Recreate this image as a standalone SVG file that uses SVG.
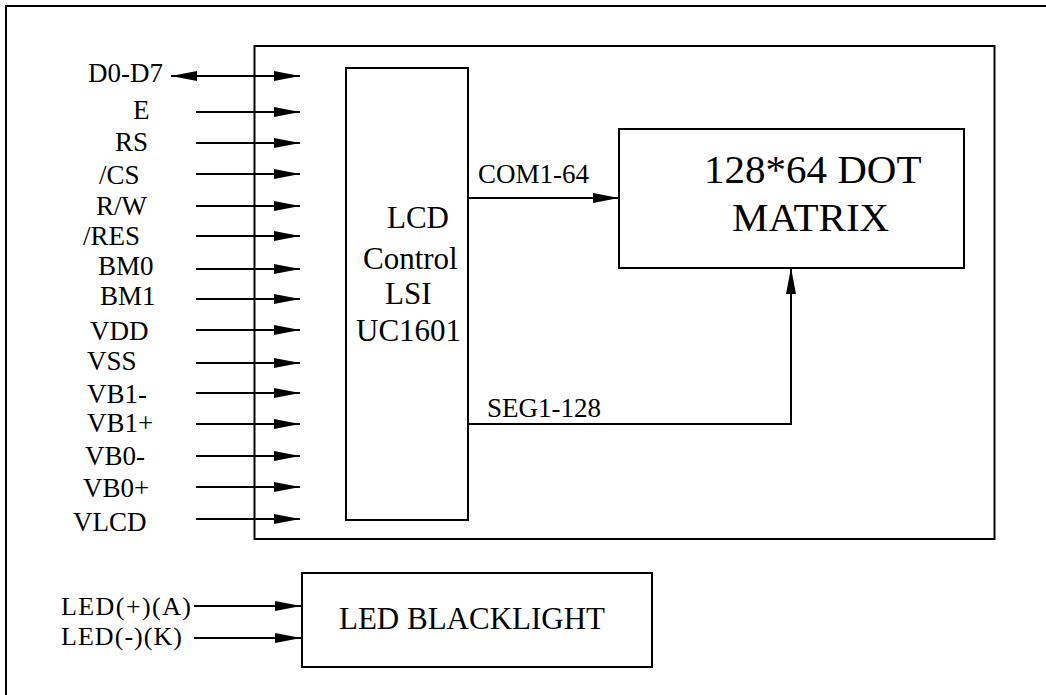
<svg xmlns="http://www.w3.org/2000/svg" width="1046" height="695" viewBox="0 0 1046 695">
<style>
.box{fill:none;stroke:#000;stroke-width:2}
.ln{fill:none;stroke:#000;stroke-width:2}
.arr{marker-end:url(#ah)}
text{font-family:"Liberation Serif","Times New Roman",serif;fill:#000}
.lbl{font-size:27px}
.chip{font-size:31px}
.big{font-size:41px}
</style>
<defs>
<marker id="ah" markerUnits="userSpaceOnUse" markerWidth="26" markerHeight="10" refX="26" refY="5" orient="auto-start-reverse">
<path d="M0,0 L26,5 L0,10 z" fill="#000"/>
</marker>
</defs>
<rect x="6" y="6" width="1100" height="800" class="box"/>
<g id="module"><rect x="254.5" y="46" width="740" height="493" class="box"/></g>
<g id="controller">
<rect x="346" y="68" width="122" height="452" class="box"/>
<text class="chip" x="387" y="228">LCD</text>
<text class="chip" x="363" y="269">Control</text>
<text class="chip" x="385" y="304">LSI</text>
<text class="chip" x="356" y="341">UC1601</text>
</g>
<g id="matrix">
<rect x="619" y="129" width="345" height="139" class="box"/>
<text class="big" x="704" y="183">128*64 DOT</text>
<text class="big" x="732" y="231">MATRIX</text>
</g>
<g id="backlight">
<rect x="302" y="573" width="350" height="94" class="box"/>
<text x="339" y="629" font-size="31">LED BLACKLIGHT</text>
</g>
<g id="pins">
<text class="lbl" x="88" y="82">D0-D7</text>
<text class="lbl" x="133" y="119">E</text>
<text class="lbl" x="115" y="151">RS</text>
<text class="lbl" x="99" y="184">/CS</text>
<text class="lbl" x="96" y="215">R/W</text>
<text class="lbl" x="83" y="245">/RES</text>
<text class="lbl" x="98" y="275">BM0</text>
<text class="lbl" x="100" y="305">BM1</text>
<text class="lbl" x="90" y="340">VDD</text>
<text class="lbl" x="87" y="370">VSS</text>
<text class="lbl" x="87" y="403">VB1-</text>
<text class="lbl" x="87" y="432">VB1+</text>
<text class="lbl" x="85" y="465">VB0-</text>
<text class="lbl" x="83" y="497">VB0+</text>
<text class="lbl" x="73" y="531">VLCD</text>
<text x="61" y="615" font-size="26" textLength="130">LED(+)(A)</text>
<text x="61" y="645" font-size="26" textLength="121">LED(-)(K)</text>
<text x="478" y="183" font-size="27">COM1-64</text>
<text x="487" y="417" font-size="27">SEG1-128</text>
</g>
<g id="connectors">
<line x1="171" y1="76" x2="300" y2="76" class="ln arr" marker-start="url(#ah)"/>
<line x1="196" y1="112" x2="300" y2="112" class="ln arr"/>
<line x1="196" y1="143" x2="300" y2="143" class="ln arr"/>
<line x1="196" y1="174" x2="300" y2="174" class="ln arr"/>
<line x1="196" y1="206" x2="300" y2="206" class="ln arr"/>
<line x1="196" y1="236" x2="300" y2="236" class="ln arr"/>
<line x1="196" y1="269" x2="300" y2="269" class="ln arr"/>
<line x1="196" y1="299" x2="300" y2="299" class="ln arr"/>
<line x1="196" y1="330" x2="300" y2="330" class="ln arr"/>
<line x1="196" y1="363" x2="300" y2="363" class="ln arr"/>
<line x1="196" y1="393" x2="300" y2="393" class="ln arr"/>
<line x1="196" y1="424" x2="300" y2="424" class="ln arr"/>
<line x1="196" y1="456" x2="300" y2="456" class="ln arr"/>
<line x1="196" y1="487" x2="300" y2="487" class="ln arr"/>
<line x1="196" y1="519" x2="300" y2="519" class="ln arr"/>
<line x1="194" y1="606" x2="301" y2="606" class="ln arr"/>
<line x1="194" y1="638" x2="301" y2="638" class="ln arr"/>
<line x1="468" y1="198" x2="619" y2="198" class="ln arr"/>
<polyline points="468,424 791,424 791,268" class="ln arr"/>
</g>
</svg>
